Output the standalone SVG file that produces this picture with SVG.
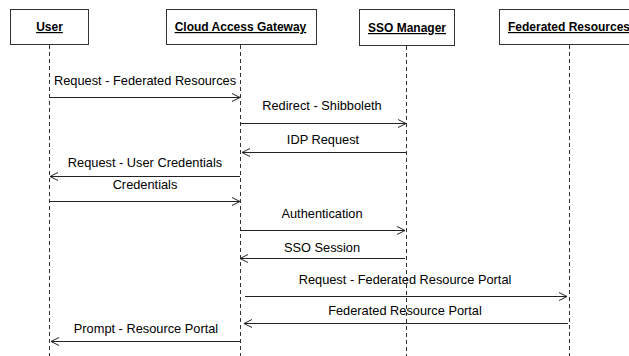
<svg xmlns="http://www.w3.org/2000/svg" width="629" height="356" viewBox="0 0 629 356">
<style>
.box{fill:#fff;stroke:#333;stroke-width:1}
.hd{font-family:"Liberation Sans",Arial,sans-serif;font-size:12px;font-weight:bold;text-decoration:underline;text-anchor:middle;fill:#000}
.life{stroke:#333;stroke-width:1;stroke-dasharray:4,3;fill:none}
.msg{stroke:#222;stroke-width:1;fill:none;marker-end:url(#ah)}
.lbl{font-family:"Liberation Sans",Arial,sans-serif;font-size:12.8px;text-anchor:middle;fill:#000}
</style>
<defs>
<marker id="ah" markerWidth="10" markerHeight="10" refX="9" refY="5" orient="auto" markerUnits="userSpaceOnUse">
<path d="M1,1 L9,5 L1,9" fill="none" stroke="#222" stroke-width="1"/>
</marker>
</defs>
<rect width="629" height="356" fill="#fff"/>
<g id="user">
<rect class="box" x="10.5" y="9.5" width="78" height="35"/>
<text class="hd" x="49.5" y="31">User</text>
<line class="life" x1="49.5" y1="45" x2="49.5" y2="356"/>
</g>
<g id="cag">
<rect class="box" x="166.5" y="9.5" width="150" height="35"/>
<text class="hd" x="240.5" y="31">Cloud Access Gateway</text>
<line class="life" x1="240.5" y1="45" x2="240.5" y2="356"/>
</g>
<g id="sso">
<rect class="box" x="359.5" y="9.5" width="95" height="36"/>
<text class="hd" x="407" y="32">SSO Manager</text>
<line class="life" x1="406.5" y1="46" x2="406.5" y2="356"/>
</g>
<g id="fed">
<rect class="box" x="499.5" y="9.5" width="140" height="35"/>
<text class="hd" x="569" y="31">Federated Resources</text>
<line class="life" x1="569.5" y1="45" x2="569.5" y2="356"/>
</g>
<g id="connectors">
<line class="msg" x1="50" y1="97.5" x2="240" y2="97.5"/>
<text class="lbl" x="145" y="85">Request - Federated Resources</text>
<line class="msg" x1="240" y1="123.5" x2="406" y2="123.5"/>
<text class="lbl" x="322" y="110">Redirect - Shibboleth</text>
<line class="msg" x1="406" y1="152.5" x2="242" y2="152.5"/>
<text class="lbl" x="323" y="144">IDP Request</text>
<line class="msg" x1="240" y1="176.5" x2="50" y2="176.5"/>
<text class="lbl" x="145" y="167">Request - User Credentials</text>
<line class="msg" x1="50" y1="201.5" x2="240" y2="201.5"/>
<text class="lbl" x="145" y="189">Credentials</text>
<line class="msg" x1="240" y1="230.5" x2="405" y2="230.5"/>
<text class="lbl" x="322" y="218">Authentication</text>
<line class="msg" x1="405" y1="258.5" x2="240" y2="258.5"/>
<text class="lbl" x="322" y="252">SSO Session</text>
<line class="msg" x1="245" y1="296.5" x2="567" y2="296.5"/>
<text class="lbl" x="405" y="284">Request - Federated Resource Portal</text>
<line class="msg" x1="568" y1="323.5" x2="244" y2="323.5"/>
<text class="lbl" x="405" y="315">Federated Resource Portal</text>
<line class="msg" x1="240" y1="341.5" x2="51" y2="341.5"/>
<text class="lbl" x="146" y="333">Prompt - Resource Portal</text>
</g>
</svg>
